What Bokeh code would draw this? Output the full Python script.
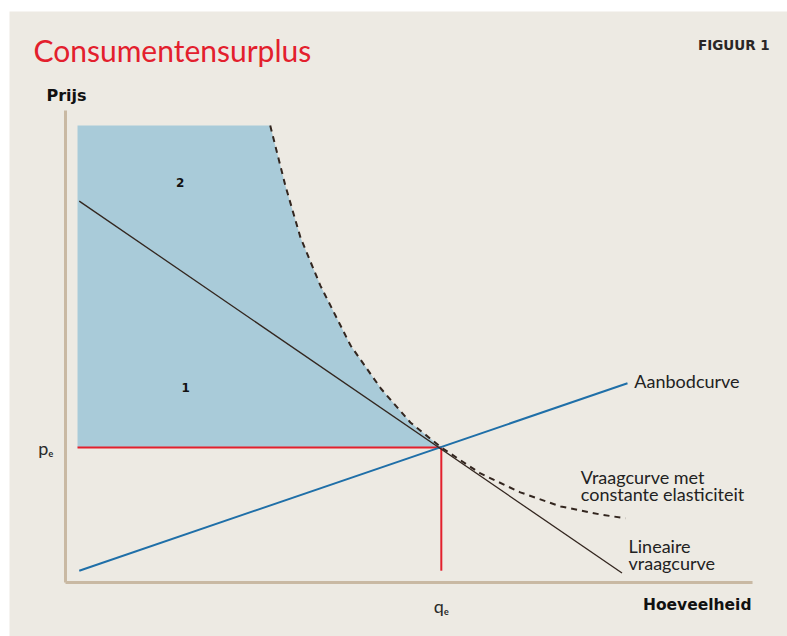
from bokeh.plotting import figure
from bokeh.models import Range1d, Label
from bokeh.core.properties import value
from bokeh.embed import file_html
from bokeh.resources import INLINE

# ---- data (quantity q, price P in chart units) ----
q_e = 54.7
p_e = 28.6
q_min = 1.75
p_top = 96.8

supply_q = [2.0, 81.8]
supply_p = [2.5, 42.2]

lin_demand_q = [2.0, 81.0]
lin_demand_p = [80.8, 2.0]

ce_demand_q = [29.8, 32.0, 34.2, 37.1, 41.5, 45.9, 50.2, 54.7, 60.4, 66.2, 72.1, 77.9, 81.5]
ce_demand_p = [96.8, 84.1, 73.1, 62.9, 50.2, 41.1, 33.9, 28.6, 23.1, 19.1, 16.1, 14.4, 13.6]

red_v_bottom = 2.5

axis_x_end = 100.0
axis_y_end = 100.0

tick_x = [q_e]
tick_x_labels = ["qₑ"]
tick_y = [p_e]
tick_y_labels = ["pₑ"]

BG = "#edeae3"
AXIS = "#c9b9a3"
RED = "#e3202d"
BLUE = "#1f6fa8"
FILL = "#a9cbd9"
DARK = "#33261f"
FONT = "Lato"
HEAVY = "DejaVu Sans"
PX_PER_P = 4.72

# frame covers the beige panel; data units: q=0 at x=65px, q=100 at 752px; P=0 at 582px, P=100 at 110px
p = figure(width=787, height=636, output_backend="svg", toolbar_location=None,
           x_range=Range1d(-8.15, 105.09), y_range=Range1d(-11.44, 120.97),
           x_axis_location=None, y_axis_location=None,
           min_border_left=9, min_border_right=0, min_border_top=11, min_border_bottom=0)
p.background_fill_color = BG
p.border_fill_color = "white"
p.outline_line_color = None
p.grid.visible = False

# axes
p.line([0, 0], [0, axis_y_end], line_color=AXIS, line_width=3)
p.line([0, axis_x_end], [0, 0], line_color=AXIS, line_width=3)

# consumer surplus area
i_e = ce_demand_q.index(q_e)
area_q = [q_min] + ce_demand_q[:i_e + 1] + [q_min]
area_p = [p_top] + ce_demand_p[:i_e + 1] + [p_e]
p.patch(area_q, area_p, fill_color=FILL, line_color=None)

# red equilibrium lines
p.line([q_min, q_e], [p_e, p_e], line_color=RED, line_width=2)
p.line([q_e, q_e], [p_e, red_v_bottom], line_color=RED, line_width=2)

# supply
p.line(supply_q, supply_p, line_color=BLUE, line_width=2)

# linear demand
p.line(lin_demand_q, lin_demand_p, line_color=DARK, line_width=1.3)

# constant elasticity demand
p.line(ce_demand_q, ce_demand_p, line_color=DARK, line_width=2, line_dash="6 5")

# tick labels
p.text(x=[-1.75] * len(tick_y), y=tick_y, text=tick_y_labels, text_font=value(FONT),
       text_font_size="18px", text_align="right", text_baseline="middle", text_color="#2a2a2a")
p.text(x=tick_x, y=[-5.0] * len(tick_x), text=tick_x_labels, text_font=value(FONT),
       text_font_size="18px", text_align="center", text_baseline="middle", text_color="#2a2a2a")

def lab(x, y, text, size=18, font=FONT, style="normal", align="left", baseline="alphabetic", color="#222222"):
    if baseline == "alphabetic":
        y = y + 0.3 * size / PX_PER_P
    p.add_layout(Label(x=x, y=y, text=text, text_font=font, text_font_size=f"{size}px",
                       text_font_style=style, text_align=align, text_baseline=baseline,
                       text_color=color))

lab(-4.66, 111.0, "Consumentensurplus", size=30, color=RED)
lab(102.5, 113.1, "FIGUUR 1", size=13.5, font=HEAVY, style="bold", align="right", color="#2a2626")
lab(-2.77, 102.1, "Prijs", size=16, font=HEAVY, style="bold", color="#111111")
lab(99.85, -5.72, "Hoeveelheid", size=15.5, font=HEAVY, style="bold", align="right", color="#111111")

lab(82.8, 41.5, "Aanbodcurve")
lab(75.0, 21.2, "Vraagcurve met")
lab(75.0, 17.6, "constante elasticiteit")
lab(81.95, 6.57, "Lineaire")
lab(81.95, 3.0, "vraagcurve")

lab(16.7, 84.7, "2", size=12, font=HEAVY, style="bold", align="center", baseline="middle", color="#111111")
lab(17.5, 41.3, "1", size=12, font=HEAVY, style="bold", align="center", baseline="middle", color="#111111")

open("out.html", "w").write(file_html(p, INLINE))
